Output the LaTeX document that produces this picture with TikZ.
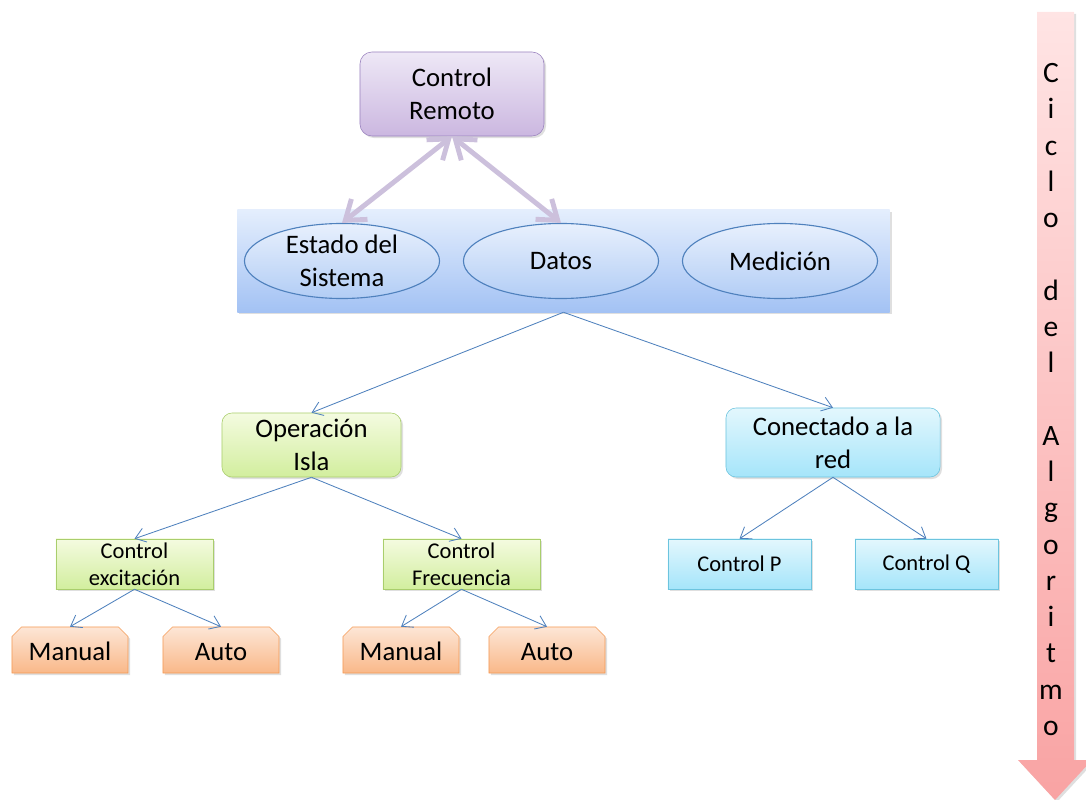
\documentclass[tikz,border=0pt]{standalone}
\usepackage{fontspec}
\setmainfont{Carlito}
\usepackage{tikz}
\usetikzlibrary{arrows.meta}
\usetikzlibrary{positioning}
\usetikzlibrary{shapes.geometric}
\usetikzlibrary{shapes.misc}
\usetikzlibrary{shadows}

\definecolor{remTop}{HTML}{EEE8F6}
\definecolor{remBot}{HTML}{CBB7E0}
\definecolor{remBorde}{HTML}{9A82BE}
\definecolor{bandaTop}{HTML}{E4EEFD}
\definecolor{bandaBot}{HTML}{A3C2F4}
\definecolor{elTop}{HTML}{E8F0FD}
\definecolor{elBot}{HTML}{B2CDF5}
\definecolor{azulLinea}{HTML}{4F81BD}
\definecolor{lila}{HTML}{CCC0DC}
\definecolor{verdeTop}{HTML}{F4FBE0}
\definecolor{verdeBot}{HTML}{D2EE9E}
\definecolor{verdeBorde}{HTML}{A9CE6C}
\definecolor{cianTop}{HTML}{E3F7FD}
\definecolor{cianBot}{HTML}{A5E5FA}
\definecolor{cianBorde}{HTML}{6CC4DE}
\definecolor{narTop}{HTML}{FDE6D6}
\definecolor{narBot}{HTML}{F9B889}
\definecolor{narBorde}{HTML}{F59A55}
\definecolor{rosaTop}{HTML}{FFE4E4}
\definecolor{rosaBot}{HTML}{F9A3A3}

\tikzstyle{sombra} = [drop shadow={shadow xshift=0.05cm, shadow yshift=-0.05cm, opacity=0.25}]
\tikzstyle{grande} = [font=\fontsize{19}{23.4}\selectfont]
\tikzstyle{chica} = [font=\fontsize{16}{19.2}\selectfont]
\tikzstyle{remoto} = [rectangle, rounded corners=0.3cm, draw=remBorde, top color=remTop, bottom color=remBot, minimum width=4.6cm, minimum height=2.1cm, align=center, grande, sombra]
\tikzstyle{banda} = [rectangle, top color=bandaTop, bottom color=bandaBot, minimum width=16.3cm, minimum height=2.55cm, sombra]
\tikzstyle{elipse} = [ellipse, draw=azulLinea, line width=0.8pt, top color=elTop, bottom color=elBot, minimum width=4.875cm, minimum height=1.875cm, inner sep=0pt, align=center, grande]
\tikzstyle{isla} = [rectangle, rounded corners=0.25cm, draw=verdeBorde, top color=verdeTop, bottom color=verdeBot, minimum width=4.475cm, minimum height=1.6cm, align=center, grande, sombra]
\tikzstyle{red} = [rectangle, rounded corners=0.25cm, draw=cianBorde, top color=cianTop, bottom color=cianBot, minimum width=5.35cm, minimum height=1.725cm, align=center, grande, sombra]
\tikzstyle{ctrlverde} = [rectangle, draw=verdeBorde, top color=verdeTop, bottom color=verdeBot, minimum width=3.925cm, minimum height=1.25cm, inner sep=1pt, align=center, chica, sombra]
\tikzstyle{ctrlcian} = [rectangle, draw=cianBorde, top color=cianTop, bottom color=cianBot, minimum width=3.575cm, minimum height=1.25cm, align=center, chica, sombra]
\tikzstyle{hoja} = [chamfered rectangle, chamfered rectangle corners={north west, north east}, chamfered rectangle xsep=0.12cm, chamfered rectangle ysep=0.12cm, draw=narBorde, top color=narTop, bottom color=narBot, minimum width=2.9cm, minimum height=1.15cm, inner sep=0pt, text height=0.53cm, text depth=0pt, grande, sombra]
\tikzstyle{flecha} = [-{Straight Barb[length=0.25cm, width=0.36cm]}, draw=azulLinea, line width=0.6pt]
\tikzstyle{doble} = [{Straight Barb[length=0.45cm, width=0.65cm]}-{Straight Barb[length=0.45cm, width=0.65cm]}, draw=lila, line width=3.5pt]

\begin{document}
\begin{tikzpicture}[x=0.025cm, y=-0.025cm]

  \useasboundingbox (0,0) rectangle (1086,800);

  % control remoto y banda de datos
  \node[remoto] (remoto) at (452,94) {Control\\Remoto};
  \node[banda] (banda) at (563.5,261) {};
  \node[elipse] (estado) at (342,261) {Estado del\\Sistema};
  \node[elipse] (datos) at (561,261) {Datos};
  \node[elipse] (medicion) at (780,261) {Medición};

  \draw[doble] (remoto.south) -- (estado.north);
  \draw[doble] (remoto.south) -- (datos.north);

  % modos de operacion
  \node[isla] (isla) at (311.5,445) {Operación\\Isla};
  \node[red] (red) at (833,442.5) {Conectado a la\\red};

  \draw[flecha] (banda.south) -- (isla.north);
  \draw[flecha] (banda.south) -- (red.north);

  % controles
  \node[ctrlverde] (excitacion) at (134.5,564) {Control\\excitación};
  \node[ctrlverde] (frecuencia) at (461.5,564) {Control\\Frecuencia};
  \node[ctrlcian] (ctrlP) at (739.5,564) {Control P};
  \node[ctrlcian] (ctrlQ) at (926.5,564) {Control Q};

  \draw[flecha] (isla.south) -- (excitacion.north);
  \draw[flecha] (isla.south) -- (frecuencia.north);
  \draw[flecha] (red.south) -- (ctrlP.north);
  \draw[flecha] (red.south) -- (ctrlQ.north);

  % manual / auto
  \node[hoja] (manualE) at (70,650) {Manual};
  \node[hoja] (autoE) at (221,650) {Auto};
  \node[hoja] (manualF) at (401,650) {Manual};
  \node[hoja] (autoF) at (547,650) {Auto};

  \draw[flecha] (excitacion.south) -- (manualE.north);
  \draw[flecha] (excitacion.south) -- (autoE.north);
  \draw[flecha] (frecuencia.south) -- (manualF.north);
  \draw[flecha] (frecuencia.south) -- (autoF.north);

  % ciclo del algoritmo
  \shade[top color=rosaTop, bottom color=rosaBot, sombra] (1037,12) -- (1074,12) -- (1074,760) -- (1092,760) -- (1055,800) -- (1018,760) -- (1037,760) -- cycle;
  \node[align=center, font=\fontsize{21}{25.8}\selectfont] (ciclo) at (1051,399.5)
    {C\\i\\c\\l\\o\\~\\d\\e\\l\\~\\A\\l\\g\\o\\r\\i\\t\\m\\o};

\end{tikzpicture}
\end{document}
